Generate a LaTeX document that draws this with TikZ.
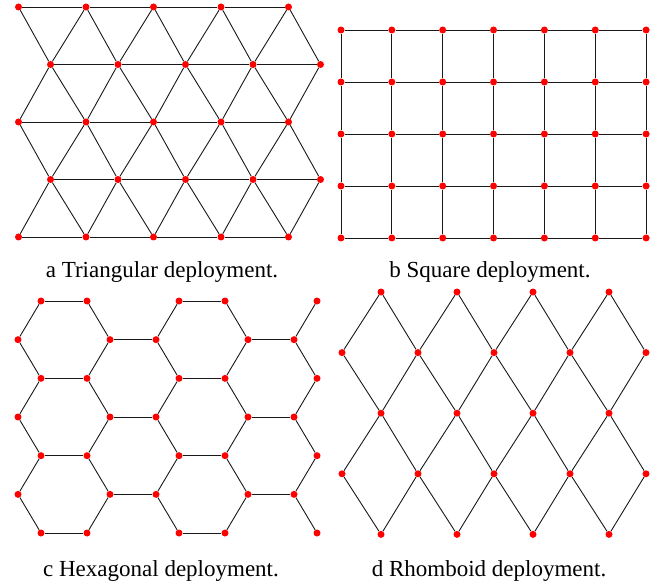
\documentclass[tikz,border=0pt]{standalone}
\usepackage{fontspec}
\setmainfont{Liberation Serif}
\begin{document}
\begin{tikzpicture}[x=1pt,y=-1pt,
  dot/.style={circle,fill=red,inner sep=0pt,minimum size=7pt},
  link/.style={draw=black!90,line width=0.9pt},
  captxt/.style={anchor=base,font=\fontsize{23}{27}\selectfont}]
\useasboundingbox[fill=white] (0,0) rectangle (666,585);
% ---------- Triangular ----------
\foreach \j in {0,...,4}{
  \foreach \k in {0,...,4}{
    \pgfmathsetmacro\xx{18.5+32*mod(\j,2)+67.5*\k}
    \pgfmathsetmacro\yy{7+57.5*\j}
    \node[dot] (t-\j-\k) at (\xx,\yy) {};
  }}
\foreach \j in {0,...,4}{
  \foreach \k [evaluate=\k as \kn using int(\k+1)] in {0,...,3}{
    \draw[link] (t-\j-\k) -- (t-\j-\kn);
  }}
\foreach \o/\e in {1/0,1/2,3/2,3/4}{
  \foreach \k in {0,...,4}{\draw[link] (t-\o-\k) -- (t-\e-\k);}
  \foreach \k [evaluate=\k as \kn using int(\k+1)] in {0,...,3}{\draw[link] (t-\o-\k) -- (t-\e-\kn);}
}
% ---------- Square ----------
\foreach \j in {0,...,4}{
  \foreach \k in {0,...,6}{
    \pgfmathsetmacro\xx{341+50.85*\k}
    \pgfmathsetmacro\yy{30+52*\j}
    \node[dot] (s-\j-\k) at (\xx,\yy) {};
  }}
\foreach \j in {0,...,4}{
  \foreach \k [evaluate=\k as \kn using int(\k+1)] in {0,...,5}{
    \draw[link] (s-\j-\k) -- (s-\j-\kn);
  }}
\foreach \j [evaluate=\j as \jn using int(\j+1)] in {0,...,3}{
  \foreach \k in {0,...,6}{
    \draw[link] (s-\j-\k) -- (s-\jn-\k);
  }}
% ---------- Hexagonal ----------
\foreach \j in {0,2,4,6}{
  \foreach \i/\xx in {1/41,2/87,5/179,6/225,9/317}{
    \pgfmathsetmacro\yy{301+38.67*\j}
    \node[dot] (h-\j-\i) at (\xx,\yy) {};
  }}
\foreach \j in {1,3,5}{
  \foreach \i/\xx in {0/18,3/110,4/156,7/248,8/294}{
    \pgfmathsetmacro\yy{301+38.67*\j}
    \node[dot] (h-\j-\i) at (\xx,\yy) {};
  }}
\foreach \j in {0,2,4,6}{
  \draw[link] (h-\j-1) -- (h-\j-2);
  \draw[link] (h-\j-5) -- (h-\j-6);
}
\foreach \j in {1,3,5}{
  \draw[link] (h-\j-3) -- (h-\j-4);
  \draw[link] (h-\j-7) -- (h-\j-8);
}
\foreach \j [evaluate=\j as \jn using int(\j+1)] in {0,2,4}{
  \foreach \a/\b in {1/0,2/3,5/4,6/7,9/8}{
    \draw[link] (h-\j-\a) -- (h-\jn-\b);
  }}
\foreach \j [evaluate=\j as \jn using int(\j+1)] in {1,3,5}{
  \foreach \a/\b in {1/0,2/3,5/4,6/7,9/8}{
    \draw[link] (h-\j-\b) -- (h-\jn-\a);
  }}
% ---------- Rhomboid ----------
\foreach \j in {0,2,4}{
  \foreach \k in {0,...,3}{
    \pgfmathsetmacro\xx{381+76*\k}
    \pgfmathsetmacro\yy{292+60.6*\j}
    \node[dot] (r-\j-\k) at (\xx,\yy) {};
  }}
\foreach \j in {1,3}{
  \foreach \k in {0,...,4}{
    \pgfmathsetmacro\xx{342+76*\k}
    \pgfmathsetmacro\yy{292+60.6*\j}
    \node[dot] (r-\j-\k) at (\xx,\yy) {};
  }}
\foreach \e/\o in {0/1,2/1,2/3,4/3}{
  \foreach \k [evaluate=\k as \kn using int(\k+1)] in {0,...,3}{
    \draw[link] (r-\e-\k) -- (r-\o-\k);
    \draw[link] (r-\e-\k) -- (r-\o-\kn);
  }}
% ---------- Captions ----------
\node[captxt] (capa) at (162,277) {a Triangular deployment.};
\node[captxt] (capb) at (490,277) {b Square deployment.};
\node[captxt] (capc) at (161,576) {c Hexagonal deployment.};
\node[captxt] (capd) at (489,576) {d Rhomboid deployment.};
\end{tikzpicture}
\end{document}
